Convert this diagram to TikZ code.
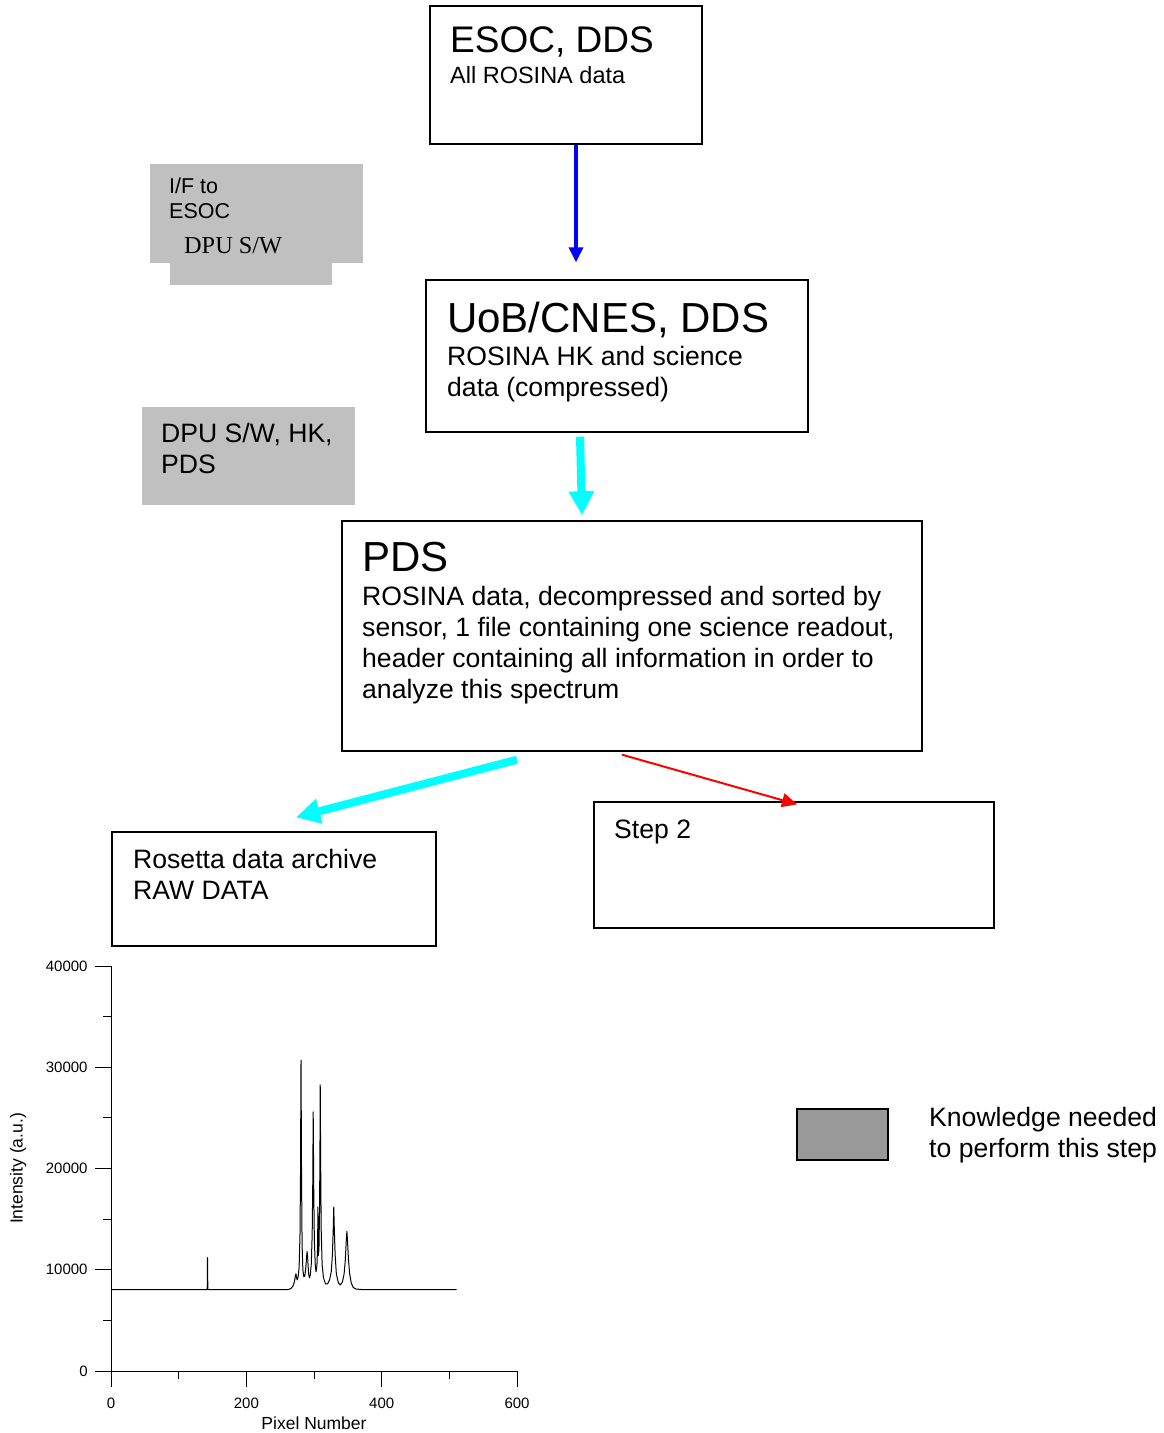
\documentclass[tikz,border=0pt]{standalone}
\usepackage{fontspec}
\setmainfont{Liberation Sans}
\newfontfamily\timesfont{Liberation Serif}
\usetikzlibrary{arrows.meta}
\definecolor{knowgrey}{HTML}{C0C0C0}
\definecolor{legendgrey}{HTML}{999999}
\definecolor{flowcyan}{RGB}{0,255,255}
\definecolor{flowblue}{RGB}{0,0,255}
\definecolor{flowred}{RGB}{255,0,0}
\newcommand{\boxlines}[1]{\begin{tabular}[t]{@{}l@{}}#1\end{tabular}}
\begin{document}
\begin{tikzpicture}[
                    x=1pt, y=-1pt,
                    stagebox/.style={draw, line width=1.4pt, inner sep=0pt},
                    knowbox/.style={fill=knowgrey, inner sep=0pt},
                    txt/.style={anchor=base west, inner sep=0pt},
                    headtext/.style={txt, font=\fontsize{42}{48}\selectfont},
                    bodytext/.style={txt, font=\fontsize{26.6}{31}\selectfont},
                    smalltext/.style={txt, font=\fontsize{21.5}{25}\selectfont},
                    axistext/.style={inner sep=0pt, font=\fontsize{15}{18}\selectfont},
                    axistitle/.style={inner sep=0pt, font=\fontsize{17.5}{21}\selectfont},
                    thinflow/.style={-{Triangle[length=15pt,width=14pt]}, line width=3.5pt},
                    thickflow/.style={-{Triangle[length=24pt,width=24pt]}, line width=8pt, flowcyan}
                    ]
    \useasboundingbox (0,0) rectangle (1164,1433);

    % processing steps
    \node [stagebox, minimum width=272pt, minimum height=138pt] (esoc) at (566,75) {};
    \node [txt, font=\fontsize{37}{42}\selectfont] (esochead) at (450,52) {ESOC, DDS};
    \node [txt, font=\fontsize{23.5}{28}\selectfont] (esocbody) at (450,83) {All ROSINA data};

    \node [stagebox, minimum width=382pt, minimum height=152pt] (uob) at (617,356) {};
    \node [headtext] (uobhead) at (447,332) {UoB/CNES, DDS};
    \node [bodytext] (uobbody) at (447,365) {\boxlines{ROSINA HK and science\\data (compressed)}};

    \node [stagebox, minimum width=580pt, minimum height=230pt] (pds) at (632,636) {};
    \node [headtext] (pdshead) at (362,571) {PDS};
    \node [bodytext] (pdsbody) at (362,605) {\boxlines{ROSINA data, decompressed and sorted by\\sensor, 1 file containing one science readout,\\header containing all information in order to\\analyze this spectrum}};

    \node [stagebox, minimum width=324pt, minimum height=114pt] (archive) at (274,889) {};
    \node [bodytext] (archivetxt) at (133,868) {\boxlines{Rosetta data archive\\RAW DATA}};

    \node [stagebox, minimum width=400pt, minimum height=126pt] (steptwo) at (794,865) {};
    \node [bodytext] (steptwotxt) at (614,838) {Step 2};

    % knowledge boxes
    \node [knowbox, minimum width=213pt, minimum height=99pt] (ifesoc) at (256.5,213.5) {};
    \node [knowbox, minimum width=162pt, minimum height=22pt, anchor=north] (ifesoctab) at ([xshift=-5.5pt]ifesoc.south) {};
    \node [smalltext] (ifesoctxt) at (169,193) {\boxlines{I/F to\\ESOC}};
    \node [txt, font=\timesfont\fontsize{24.3}{28}\selectfont] (dpusw) at (184,253) {DPU S/W};

    \node [knowbox, minimum width=213pt, minimum height=98pt] (dpuhk) at (248.5,456) {};
    \node [bodytext] (dpuhktxt) at (161,442) {\boxlines{DPU S/W, HK,\\PDS}};

    % flows
    \draw [thinflow, flowblue] ([xshift=10pt]esoc.south) -- ([xshift=-41pt,yshift=17pt]uob.north);
    \draw [thickflow] ([xshift=-37pt,yshift=-4pt]uob.south) -- ([xshift=-50pt,yshift=5pt]pds.north);
    \draw [thickflow] ([xshift=-115pt,yshift=-8pt]pds.south) -- ([xshift=22pt,yshift=14pt]archive.north);
    \draw [-{Triangle[length=15pt,width=14pt]}, line width=2pt, flowred] ([xshift=-10pt,yshift=-3pt]pds.south) -- ([xshift=3pt,yshift=-3pt]steptwo.north);

    % legend
    \node [draw, line width=1.4pt, fill=legendgrey, minimum width=91pt, minimum height=51pt] (legendbox) at (842.5,1134.5) {};
    \node [bodytext] (legendtxt) at (929,1126) {\boxlines{Knowledge needed\\to perform this step}};

    % raw spectrum
    \begin{scope}[shift={(111,1371)}, x=0.6767pt, y=10.125pt, line width=0.8pt]
        \draw (0,40) -- (0,0) -- (600,0);
        \foreach \yv/\ylab in {0/0,10/10000,20/20000,30/30000,40/40000} {
            \draw (0,\yv) -- ++(-16pt,0);
            \node [axistext, anchor=east] (ylab\yv) at ([xshift=-23pt]0,\yv) {\ylab};
        }
        \foreach \yv in {5,15,25,35} \draw (0,\yv) -- ++(-8pt,0);
        \foreach \xv in {0,200,400,600} {
            \draw (\xv,0) -- ++(0,-16pt);
            \node [axistext, anchor=north] (xlab\xv) at ([yshift=-27pt]\xv,0) {\xv};
        }
        \foreach \xv in {100,300,500} \draw (\xv,0) -- ++(0,-8pt);
        \node [axistitle] (xtitle) at ([yshift=-52pt]300,0) {Pixel Number};
        \node [axistitle, rotate=90] (ytitle) at ([xshift=-93pt]0,20) {Intensity (a.u.)};
        \draw [line width=1pt, line join=round] plot coordinates {
            (0,8.05) (140,8.05) (142.2,8.05) (142.6,11.2) (143.1,8.05) (262,8.05)
            (266,8.15) (269,8.4) (271,8.8) (272.5,9.4) (273.3,9.6) (274.3,9.2) (275.3,9.0)
            (276.5,9.3) (278,10.2) (279.3,13.5) (280,19) (280.8,30.7) (281.6,19) (282.4,12.5)
            (283.5,10) (285,9.3) (286.5,9.4) (288,10.3) (289.2,11.4) (289.8,11.8) (290.6,11.2)
            (292,9.6) (293.2,9.2) (294.5,9.5) (296,10.6) (297.3,13.5) (298.1,18) (298.8,25.6)
            (299.6,18) (300.5,13) (301.8,10.5) (303,9.8) (304.3,10.4) (305.3,12.3) (305.8,16.2)
            (306.3,11.4) (307.3,12) (308.2,16) (308.8,22) (309.2,28.25) (309.8,21) (310.6,14)
            (312,10.5) (314,9.2) (317,8.6) (320,8.6) (323,9.0) (325.5,9.8) (327.2,11.5)
            (328.4,14) (329.2,16.2) (330,14) (331.2,11.5) (333,9.6) (336,8.7) (339,8.5)
            (342,8.8) (344.5,9.6) (346.3,11) (347.6,12.8) (348.6,13.8) (349.6,12.8) (350.9,11)
            (352.7,9.6) (355,8.7) (358,8.25) (362,8.1) (370,8.05) (510.7,8.05)};
    \end{scope}
\end{tikzpicture}
\end{document}
